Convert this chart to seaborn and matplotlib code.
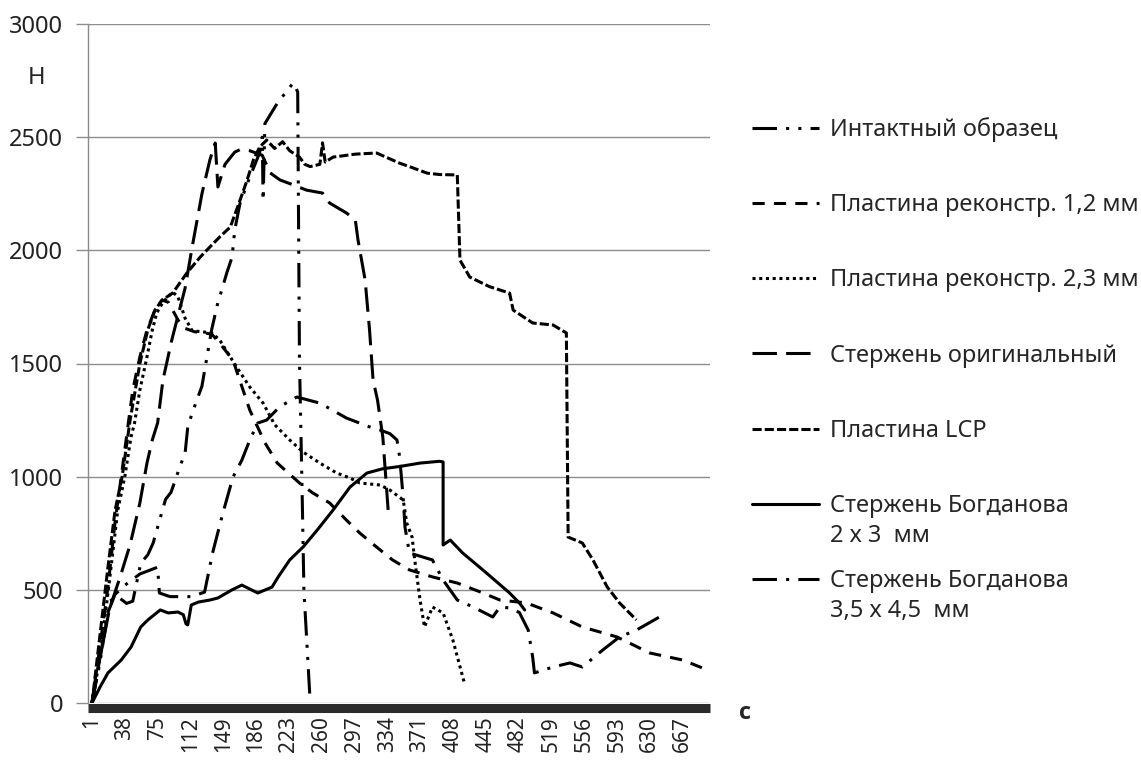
import matplotlib
matplotlib.use("Agg")
import matplotlib.pyplot as plt
import pandas as pd
import seaborn as sns
from matplotlib.lines import Line2D

# ---------------- data (time index, force in N) ----------------
intact_t = [1, 10, 21, 30, 40, 47, 56, 64, 70, 75, 84, 90, 95, 100, 106, 109, 114, 125, 136, 143, 148, 153, 159, 162,
            168, 179, 190, 193, 194, 196, 210, 228, 233, 235, 238, 240, 247]
intact_v = [0, 180, 450, 470, 440, 450, 618, 655, 707, 777, 900, 930, 985, 1043, 1104, 1219, 1281, 1400, 1650, 1770,
            1833, 1900, 1970, 2090, 2209, 2324, 2430, 2500, 2220, 2560, 2650, 2740, 2700, 1515, 930, 500, 10]

plate12_t = [1, 10, 19, 27, 34, 42, 47, 55, 63, 72, 80, 87, 92, 98, 106, 117, 136, 145, 160, 179, 196, 210, 235, 250,
             269, 288, 303, 322, 340, 359, 385, 413, 442, 461, 491, 521, 554, 593, 630, 667, 695]
plate12_v = [0, 250, 512, 800, 1000, 1237, 1383, 1529, 1648, 1736, 1780, 1771, 1736, 1692, 1655, 1640, 1630, 1590,
             1515, 1294, 1150, 1060, 972, 928, 884, 808, 751, 689, 632, 588, 557, 530, 486, 455, 442, 398, 336, 292,
             221, 190, 146]

plate23_t = [1, 10, 21, 30, 38, 45, 49, 55, 63, 69, 74, 81, 92, 98, 106, 114, 136, 145, 164, 179, 194, 207, 224, 239,
             258, 277, 292, 303, 326, 337, 352, 356, 362, 365, 371, 376, 385, 397, 408, 421]
plate23_v = [0, 200, 550, 850, 1000, 1175, 1237, 1383, 1529, 1648, 1723, 1771, 1816, 1794, 1700, 1645, 1635, 1604,
             1485, 1396, 1325, 1230, 1162, 1109, 1060, 1016, 994, 972, 963, 941, 897, 795, 733, 632, 455, 336, 424,
             398, 278, 88]

rod_t = [1, 10, 21, 33, 44, 55, 63, 69, 75, 81, 91, 106, 114, 125, 134, 140, 143, 151, 162, 168, 179, 193, 202, 213,
         228, 243, 261, 269, 288, 298, 301, 309, 314, 318, 323, 329, 335]
rod_v = [0, 200, 420, 560, 700, 884, 1060, 1162, 1237, 1427, 1604, 1833, 2015, 2250, 2400, 2474, 2280, 2380, 2434,
         2445, 2440, 2420, 2342, 2311, 2289, 2266, 2253, 2209, 2165, 2134, 2046, 1870, 1650, 1427, 1339, 1175, 853]

lcp_t = [1, 10, 19, 27, 35, 44, 55, 64, 72, 80, 92, 108, 123, 134, 145, 157, 168, 176, 183, 190, 198, 207, 216, 224,
         235, 241, 247, 258, 261, 264, 273, 298, 322, 348, 359, 379, 393, 413, 416, 427, 449, 472, 476, 498, 521, 536,
         538, 554, 566, 582, 596, 615]
lcp_v = [0, 300, 600, 850, 1000, 1250, 1500, 1650, 1736, 1780, 1811, 1900, 1970, 2015, 2059, 2103, 2222, 2311, 2399,
         2456, 2487, 2450, 2480, 2440, 2412, 2380, 2370, 2380, 2475, 2390, 2412, 2425, 2430, 2385, 2370, 2341, 2335,
         2333, 1957, 1882, 1840, 1811, 1736, 1679, 1670, 1635, 733, 707, 632, 513, 442, 367]

bog23_t = [1, 10, 19, 34, 45, 56, 64, 78, 87, 98, 104, 107, 109, 113, 121, 134, 143, 159, 170, 188, 204, 211, 224,
           239, 255, 273, 292, 311, 329, 348, 371, 393, 397, 397, 405, 419, 446, 472, 483, 489]
bog23_v = [0, 70, 133, 190, 247, 336, 367, 411, 398, 402, 390, 350, 345, 433, 446, 455, 464, 500, 521, 486, 512, 557,
           632, 689, 764, 853, 954, 1016, 1035, 1045, 1060, 1068, 1065, 698, 720, 663, 574, 486, 442, 411]

bog3545_t = [1, 10, 19, 27, 38, 55, 75, 77, 89, 113, 128, 137, 148, 160, 170, 179, 188, 198, 213, 232, 258, 288, 314,
             326, 337, 345, 348, 352, 354, 359, 374, 385, 397, 413, 431, 453, 461, 472, 483, 493, 498, 500, 521, 540,
             554, 577, 596, 615, 641, 649]
bog3545_v = [0, 200, 400, 480, 520, 570, 600, 486, 470, 470, 490, 663, 830, 998, 1073, 1162, 1237, 1250, 1310, 1352,
             1325, 1259, 1220, 1206, 1190, 1162, 1087, 906, 777, 663, 645, 632, 543, 455, 424, 380, 424, 420, 400, 322,
             203, 133, 159, 177, 159, 234, 292, 322, 380, 389]

labels = ["Интактный образец", "Пластина реконстр. 1,2 мм", "Пластина реконстр. 2,3 мм",
          "Стержень оригинальный", "Пластина LCP", "Стержень Богданова", "Стержень Богданова"]
second_lines = ["", "", "", "", "", "2 х 3  мм", "3,5 х 4,5  мм"]
x_ticks = [1, 38, 75, 112, 149, 186, 223, 260, 297, 334, 371, 408, 445, 482, 519, 556, 593, 630, 667]
y_ticks = [0, 500, 1000, 1500, 2000, 2500, 3000]

# ---------------- style ----------------
sns.set_style("white")
plt.rcParams['font.family'] = ['Noto Sans', 'DejaVu Sans']

W, H = 1141, 761
fig = plt.figure(figsize=(W / 100, H / 100), dpi=100)
ax = fig.add_axes([88 / W, 1 - 703 / H, (710 - 88) / W, (703 - 24) / H])

series = [(intact_t, intact_v, (8, 3, 1, 3, 1, 3)),
          (plate12_t, plate12_v, (4, 3)),
          (plate23_t, plate23_v, (1, 1.2)),
          (rod_t, rod_v, (8, 3)),
          (lcp_t, lcp_v, (3, 1)),
          (bog23_t, bog23_v, None),
          (bog3545_t, bog3545_v, (8, 3, 1, 3))]

LW = 2.2
handles = []
for (t, v, dash), lab in zip(series, labels):
    df = pd.DataFrame({"t": t, "v": v})
    n_before = len(ax.lines)
    sns.lineplot(data=df, x="t", y="v", ax=ax, sort=False, estimator=None,
                 color="black", linewidth=LW)
    line = ax.lines[n_before]
    if dash is not None:
        line.set_dashes(dash)
    h = Line2D([], [], color="black", linewidth=LW)
    if dash is not None:
        h.set_dashes(dash)
    handles.append(h)

ax.set_xlim(-3.5, 698)
ax.set_ylim(0, 3000)
ax.set_xticks(x_ticks)
ax.set_yticks(y_ticks)
ax.tick_params(axis="x", length=0, pad=6, labelrotation=90, labelsize=15, labelcolor="#222222")
ax.tick_params(axis="y", length=9, width=1, color="#8c8c8c", pad=9, left=True,
               labelsize=17, labelcolor="#222222")
ax.grid(axis="y", color="#8c8c8c", linewidth=1.0)
ax.grid(axis="x", visible=False)
ax.set_axisbelow(True)

for s in ["top", "right"]:
    ax.spines[s].set_visible(False)
ax.spines["left"].set_color("#8c8c8c")
ax.spines["left"].set_linewidth(1.0)
ax.spines["bottom"].set_color("#2b2b2b")
ax.spines["bottom"].set_linewidth(6.5)
ax.spines["bottom"].set_capstyle("butt")
ax.spines["bottom"].set_position(("outward", 3.3))

ax.set_xlabel("с", fontsize=17, fontweight="bold", family=["Open Sans", "DejaVu Sans"])
ax.xaxis.set_label_coords((745 - 88) / 622, (703 - 713) / 679)
ax.xaxis.label.set_va("center")
ax.set_ylabel("Н", rotation=0, fontsize=17)
ax.yaxis.set_label_coords((37 - 88) / 622, (703 - 78) / 679)
ax.yaxis.label.set_va("center")
ax.yaxis.label.set_ha("center")

leg = fig.legend(handles, labels, loc="upper left", bbox_to_anchor=(752 / W, 1 - 117 / H),
                 frameon=False, fontsize=17, handlelength=2.85, handletextpad=0.47,
                 labelspacing=2.17, borderpad=0, borderaxespad=0)

fig.canvas.draw()
renderer = fig.canvas.get_renderer()
texts = leg.get_texts()
for txt, extra in zip(texts, second_lines):
    if extra:
        bb = txt.get_window_extent(renderer)
        x0 = bb.x0 / W
        y0 = (bb.y0 + bb.y1) / 2 / H - 30 / H
        fig.text(x0, y0, extra, fontsize=17, va="center", ha="left")

fig.savefig("out.png", dpi=100)
